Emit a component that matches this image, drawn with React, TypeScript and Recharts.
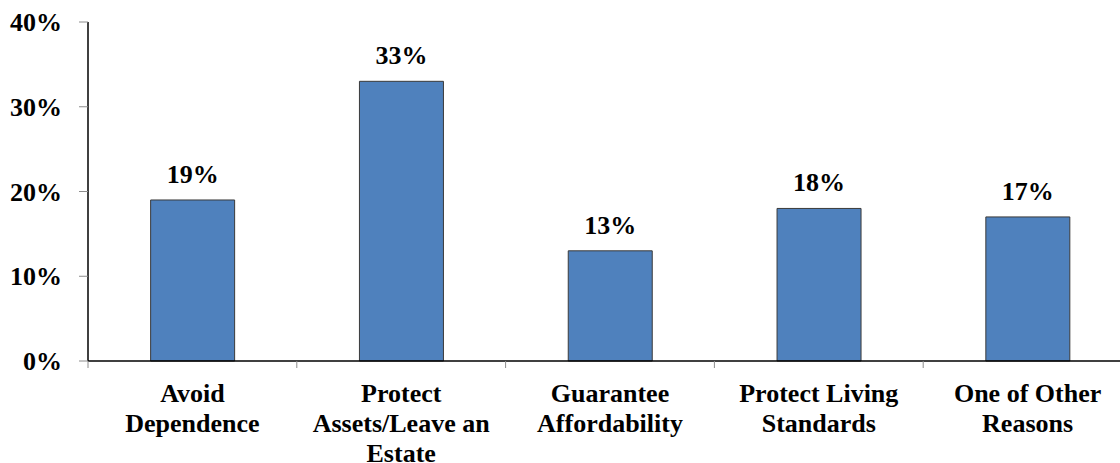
import { BarChart, Bar, XAxis, YAxis, LabelList } from "recharts";

const categories = [
  "Avoid\nDependence",
  "Protect\nAssets/Leave an\nEstate",
  "Guarantee\nAffordability",
  "Protect Living\nStandards",
  "One of Other\nReasons",
];
const shares = [19, 33, 13, 18, 17];
const yTicks = [0, 10, 20, 30, 40];

const data = categories.map((name, i) => ({ name, value: shares[i] }));

const FONT = "Liberation Serif, Tinos, Times New Roman, Times, serif";
const SIZE = 26;

function CategoryTick(props: any) {
  const { x, y, payload } = props;
  const half = payload?.offset ?? 0;
  const lines = String(payload.value).split("\n");
  return (
    <g>
      <line x1={x - half} x2={x - half} y1={361} y2={368} stroke="#8c8c8c" strokeWidth={1} />
      <text
        x={x}
        y={y}
        textAnchor="middle"
        fill="#000"
        style={{ fontFamily: FONT, fontSize: SIZE, fontWeight: "bold" }}
      >
        {lines.map((ln, i) => (
          <tspan key={i} x={x} dy={i === 0 ? 17 : 30}>
            {ln}
          </tspan>
        ))}
      </text>
    </g>
  );
}

export default function App() {
  return (
    <div style={{ position: "absolute", left: 0, top: 0, width: 1120, height: 463, overflow: "hidden", background: "#fff" }}>
      <BarChart
        width={1140}
        height={463}
        data={data}
        margin={{ top: 22, right: 8, bottom: 0, left: 0 }}
        barCategoryGap="30%"
      >
        <XAxis
          dataKey="name"
          height={102}
          axisLine={{ stroke: "#000", strokeWidth: 1.5 }}
          tickLine={false}
          tickSize={7}
          tickMargin={17}
          interval={0}
          tick={<CategoryTick />}
        />
        <YAxis
          width={88}
          domain={[0, 40]}
          ticks={yTicks}
          interval={0}
          tickFormatter={(v) => `${v}%`}
          axisLine={{ stroke: "#000", strokeWidth: 1.5 }}
          tickLine={{ stroke: "#8c8c8c" }}
          tickSize={9}
          tickMargin={17}
          tick={{ fill: "#000", fontSize: SIZE, fontWeight: "bold", fontFamily: FONT }}
        />
        <Bar dataKey="value" fill="#4F81BD" stroke="#3a3a3a" strokeWidth={1} isAnimationActive={false}>
          <LabelList
            dataKey="value"
            position="top"
            offset={17}
            formatter={(v: any) => `${v}%`}
            style={{ fontFamily: FONT, fontSize: SIZE, fontWeight: "bold", fill: "#000" }}
          />
        </Bar>
      </BarChart>
    </div>
  );
}
